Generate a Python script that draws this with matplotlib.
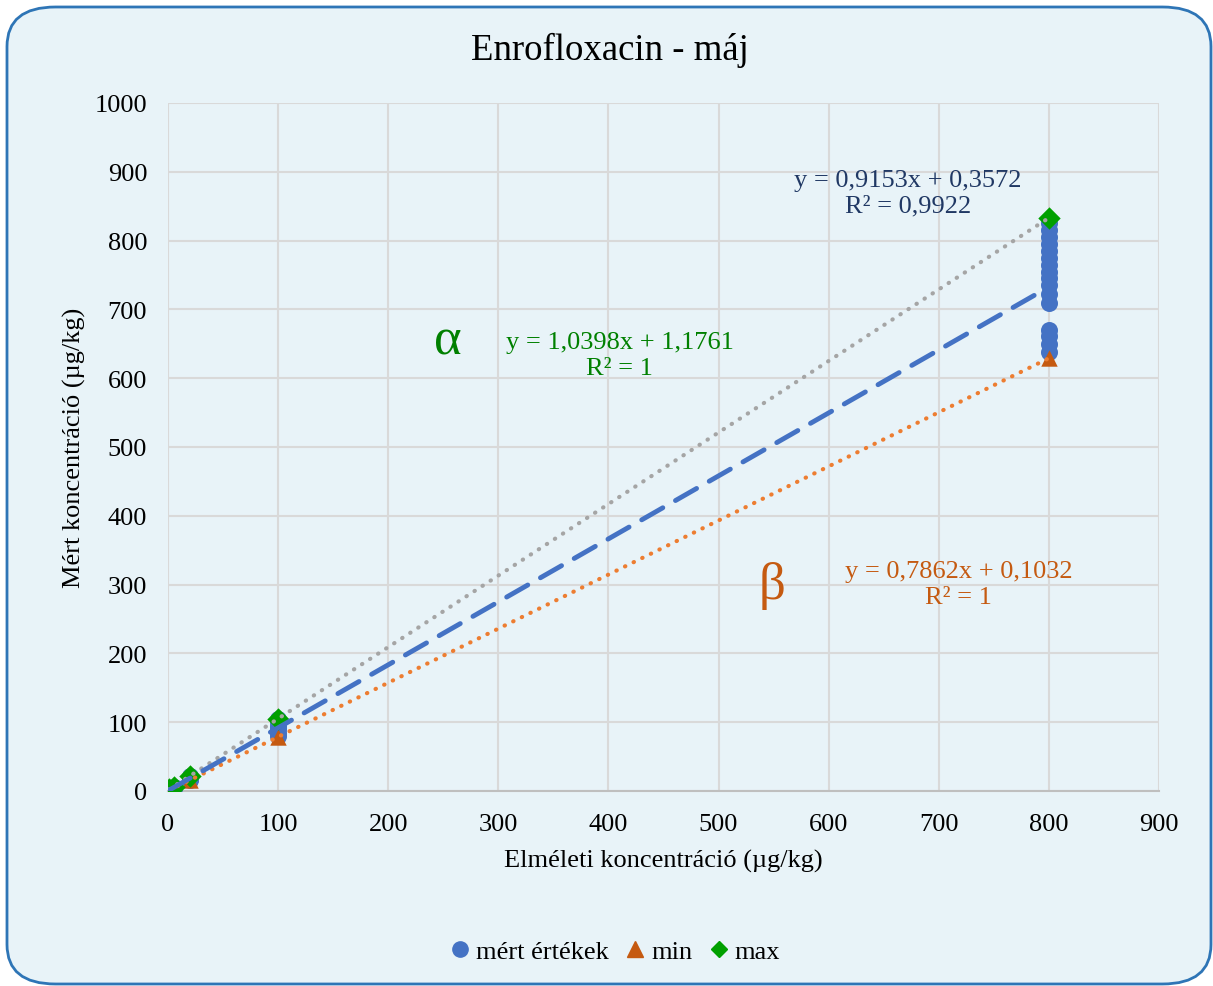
import numpy as np
import matplotlib.pyplot as plt
from matplotlib.patches import FancyBboxPatch
from matplotlib.lines import Line2D

plt.rcParams['font.family'] = ['Liberation Serif', 'DejaVu Serif']

# data
x_levels = [1, 5, 20, 100, 800]
mert = {
    1: [0.9, 1.5, 2.0],
    5: [4.0, 5.0, 6.0],
    20: [16, 18, 20, 22],
    100: [80, 85, 90, 95, 100, 104],
    800: [825, 815, 805, 795, 785, 775, 765, 755, 745, 735, 722, 710,
          670, 662, 650, 638],
}
min_vals = [0.9, 4.0, 15.8, 78.7, 629.1]
max_vals = [2.2, 6.4, 22.0, 105.2, 833.0]

# trendline coefficients (slope, intercept)
fit_mert = (0.9153, 0.3572)
fit_min = (0.7862, 0.1032)
fit_max = (1.0398, 1.1761)

bg = '#E8F3F8'
blue = '#4472C4'
orange_m = '#C55A11'
green_m = '#00A000'

fig = plt.figure(figsize=(12.13, 9.87), dpi=100)
fig.patch.set_facecolor('white')
frame = FancyBboxPatch((7 / 1213, 1 - 985 / 987), 1204 / 1213, 977 / 987,
                       boxstyle='round,pad=0,rounding_size=0.04',
                       transform=fig.transFigure, facecolor=bg,
                       edgecolor='#2E75B6', linewidth=2, zorder=-10)
fig.patches.append(frame)

ax = fig.add_axes([168 / 1213, 1 - 792 / 987, 991 / 1213, 688 / 987])
ax.set_facecolor(bg)

xs = [x for x in x_levels for _ in mert[x]]
ys = [v for x in x_levels for v in mert[x]]
ax.scatter(xs, ys, s=150, color=blue, zorder=3, linewidths=0)
ax.scatter(x_levels, min_vals, s=140, marker='^', color=orange_m, zorder=4, linewidths=0)
ax.scatter(x_levels, max_vals, s=130, marker='D', color=green_m, zorder=4, linewidths=0)

xl = np.array([x_levels[0], x_levels[-1]])
ax.plot(xl, fit_max[0] * xl + fit_max[1], color='#A5A5A5', lw=3,
        linestyle=(0, (0.1, 2.2)), dash_capstyle='round', zorder=5)
ax.plot(xl, fit_min[0] * xl + fit_min[1], color='#ED7D31', lw=3,
        linestyle=(0, (0.1, 2.2)), dash_capstyle='round', zorder=5)
ax.plot(xl, fit_mert[0] * xl + fit_mert[1], color=blue, lw=3.5,
        linestyle=(0, (5, 3)), dash_capstyle='round', zorder=5)

ax.set_xlim(0, 900)
ax.set_ylim(0, 1000)
ax.set_xticks(range(0, 901, 100))
ax.set_yticks(range(0, 1001, 100))
ax.tick_params(length=0, labelsize=19)
ax.tick_params(axis='y', pad=15)
ax.tick_params(axis='x', pad=16)
ax.grid(True, color='#D9D9D9', lw=1.5)
ax.set_axisbelow(True)
for s in ['top', 'right', 'left']:
    ax.spines[s].set_visible(False)
ax.spines['bottom'].set_color('#BFBFBF')
ax.spines['bottom'].set_linewidth(1.5)

fig.text(610 / 1213, 1 - 50 / 987, 'Enrofloxacin - máj', fontsize=26.5,
         ha='center', va='center')
ax.set_xlabel('Elméleti koncentráció (µg/kg)', fontsize=19, labelpad=10)
ax.set_ylabel('Mért koncentráció (µg/kg)', fontsize=19, labelpad=6)

ax.text(672, 870, 'y = 0,9153x + 0,3572\nR² = 0,9922', ha='center', va='center',
        fontsize=19, color='#203864', linespacing=1.2)
ax.text(410, 634, 'y = 1,0398x + 1,1761\nR² = 1', ha='center', va='center',
        fontsize=19, color='#008000', linespacing=1.2)
ax.text(718, 301, 'y = 0,7862x + 0,1032\nR² = 1', ha='center', va='center',
        fontsize=19, color='#C55A11', linespacing=1.2)
ax.text(254, 655, 'α', ha='center', va='center', fontsize=38, color='#008000')
ax.text(549, 300, 'β', ha='center', va='center', fontsize=38, color='#C55A11')

handles = [
    Line2D([], [], marker='o', color=blue, linestyle='none', markersize=11),
    Line2D([], [], marker='^', color=orange_m, linestyle='none', markersize=11),
    Line2D([], [], marker='D', color=green_m, linestyle='none', markersize=8),
]
fig.legend(handles, ['mért értékek', 'min', 'max'], loc='center',
           bbox_to_anchor=(615 / 1213, 1 - 952 / 987), ncol=3, frameon=False,
           fontsize=19, handletextpad=0.2, columnspacing=0.6, handlelength=0.8)

plt.savefig('out.png', dpi=100)
